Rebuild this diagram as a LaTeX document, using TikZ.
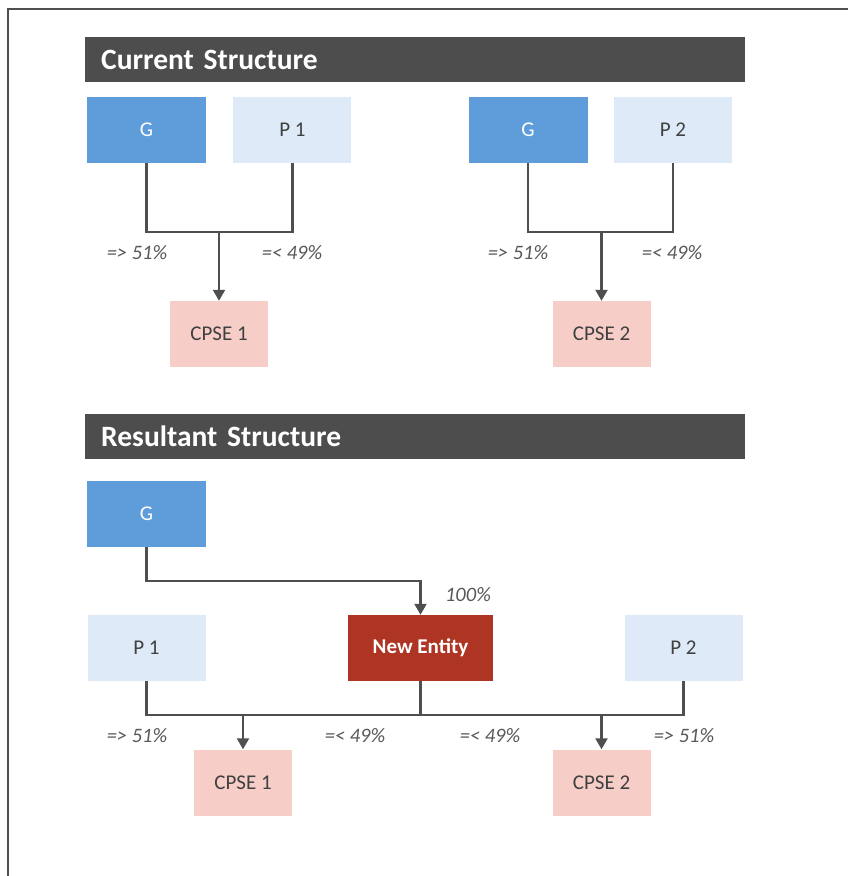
\documentclass[tikz,border=0pt]{standalone}
\usepackage{fontspec}
\setmainfont{Carlito}
\usepackage{xcolor}
\usetikzlibrary{positioning,arrows.meta}
\definecolor{ink}{HTML}{404040}
\definecolor{wirec}{HTML}{4F4F4F}
\definecolor{pctc}{HTML}{595959}
\definecolor{hdrc}{HTML}{4D4D4D}
\definecolor{gblue}{HTML}{5F9CDA}
\definecolor{pblue}{HTML}{DEEAF8}
\definecolor{cpink}{HTML}{F7CDC8}
\definecolor{nred}{HTML}{AE3524}
\tikzset{
  >={Triangle[length=11pt,width=12pt]},
  box/.style={inner sep=0pt, minimum height=66pt, align=center, font=\fontsize{21}{24}\selectfont},
  gov/.style={box, fill=gblue, minimum width=119pt, text=white},
  prom/.style={box, fill=pblue, minimum width=118pt, text=ink},
  cpse/.style={box, fill=cpink, minimum width=98pt, text=ink},
  newent/.style={box, fill=nred, minimum width=145pt, text=white, font=\fontsize{21}{24}\selectfont\bfseries},
  hdr/.style={fill=hdrc, anchor=west, minimum height=45pt, text width=628pt, inner xsep=16pt,
              inner ysep=0pt, align=left, text=white, font=\fontsize{29.5}{32}\selectfont\bfseries},
  pct/.style={text=pctc, font=\fontsize{20.5}{23}\selectfont\itshape},
  wire/.style={draw=wirec, line width=2.2pt},
  arr/.style={wire, ->},
}
\begin{document}
\begin{tikzpicture}[x=1pt, y=-1pt]
  \useasboundingbox (0,0) rectangle (848,876);
  \draw[draw=wirec, line width=1.5pt] (8,876) -- (8,9) -- (848,9);
  % current structure
  \node[hdr] (hdr1) at (85,59.5) {Current Structure};
  \node[gov] (g1) at (146.5,130) {G};
  \node[prom, right=27pt of g1] (p1) {P 1};
  \node[cpse] (cpse1) at (219,334) {CPSE 1};
  \coordinate (j1) at (219,232);
  \draw[wire] (g1.south) |- (j1) -| (p1.south);
  \draw[arr] (j1) -- (cpse1.north);
  \node[pct] (l1) at (137,253) {=> 51\%};
  \node[pct] (l2) at (292,253) {=< 49\%};
  \node[gov] (g2) at (528,130) {G};
  \node[prom, right=26pt of g2] (p2) {P 2};
  \node[cpse] (cpse2) at (601.5,334) {CPSE 2};
  \coordinate (j2) at (601.5,232);
  \draw[wire] (g2.south) |- (j2) -| (p2.south);
  \draw[arr] (j2) -- (cpse2.north);
  \node[pct] (l3) at (518,253) {=> 51\%};
  \node[pct] (l4) at (672,253) {=< 49\%};
  % resultant structure
  \node[hdr] (hdr2) at (85,436) {Resultant Structure};
  \node[gov] (g3) at (146.5,514) {G};
  \node[prom] (p1b) at (146.5,648) {P 1};
  \node[newent] (ne) at (420.5,648) {New Entity};
  \node[prom] (p2b) at (683.5,648) {P 2};
  \node[cpse] (cpse1b) at (243,782.5) {CPSE 1};
  \node[cpse] (cpse2b) at (601.5,782.5) {CPSE 2};
  \coordinate (k) at (420.5,581);
  \draw[arr] (g3.south) |- (k) -- (ne.north);
  \node[pct] (l5) at (468,595) {100\%};
  \coordinate (jb) at (420.5,715);
  \draw[wire] (p1b.south) |- (jb) -| (p2b.south);
  \draw[wire] (ne.south) -- (jb);
  \draw[arr] (cpse1b.north |- jb) -- (cpse1b.north);
  \draw[arr] (cpse2b.north |- jb) -- (cpse2b.north);
  \node[pct] (l6) at (137,736) {=> 51\%};
  \node[pct] (l7) at (355,736) {=< 49\%};
  \node[pct] (l8) at (490,736) {=< 49\%};
  \node[pct] (l9) at (684,736) {=> 51\%};
\end{tikzpicture}
\end{document}
